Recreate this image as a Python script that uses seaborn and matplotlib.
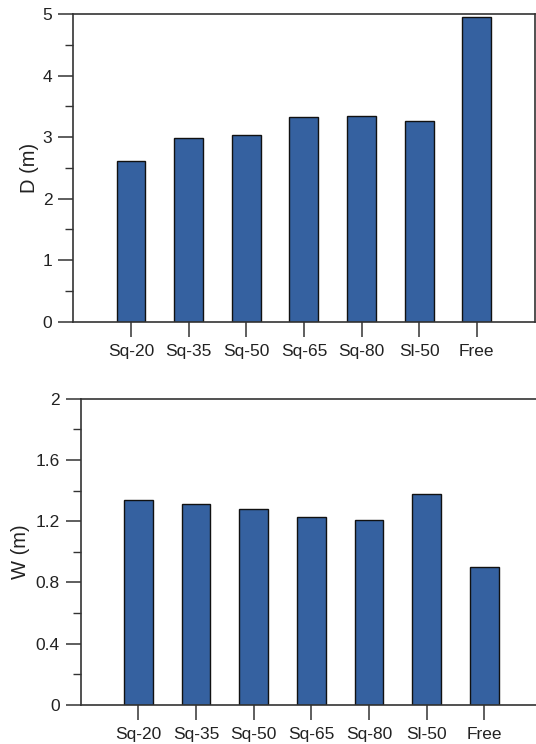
import matplotlib
matplotlib.use("Agg")
import matplotlib.pyplot as plt
import seaborn as sns
import pandas as pd
from matplotlib.ticker import MultipleLocator

categories = ["Sq-20", "Sq-35", "Sq-50", "Sq-65", "Sq-80", "Sl-50", "Free"]
depth_m = [2.61, 2.99, 3.03, 3.32, 3.35, 3.26, 4.95]
width_m = [1.34, 1.31, 1.28, 1.23, 1.21, 1.38, 0.90]

sns.set_theme(style="ticks")
plt.rcParams["font.family"] = ["Liberation Sans", "DejaVu Sans"]

W, H = 536, 744
fig = plt.figure(figsize=(W / 100, H / 100), dpi=100)

bar_color = "#3561a0"
spine_color = "#333333"

def style_axes(ax, ylab, ymax, major, minor, labelpad):
    ax.set_xlim(-1, 7)
    ax.set_ylim(0, ymax)
    ax.yaxis.set_major_locator(MultipleLocator(major))
    ax.yaxis.set_minor_locator(MultipleLocator(minor))
    ax.set_ylabel(ylab, fontsize=14.5, color="#222222", labelpad=labelpad)
    ax.set_xlabel("")
    for s in ax.spines.values():
        s.set_color(spine_color)
        s.set_linewidth(1.2)
    ax.tick_params(axis="both", which="major", length=11, width=1.1,
                   color=spine_color, labelsize=12.5, labelcolor="#222222", pad=4)
    ax.tick_params(axis="y", which="minor", length=6, width=1.0, color=spine_color)
    ax.tick_params(axis="x", which="major", pad=5)

# top panel
ax1 = fig.add_axes([73.3 / W, 1 - 321.7 / H, (534.5 - 73.3) / W, (321.7 - 14) / H])
df1 = pd.DataFrame({"cat": categories, "val": depth_m})
sns.barplot(data=df1, x="cat", y="val", ax=ax1, color=bar_color, width=0.5,
            edgecolor="#111111", linewidth=1.0, saturation=1)
style_axes(ax1, "D (m)", 5, 1, 0.5, 3)
ax1.yaxis.set_major_formatter(matplotlib.ticker.FormatStrFormatter("%d"))

# bottom panel (right border lies outside the image in the reference)
ax2 = fig.add_axes([80.7 / W, 1 - 705 / H, (542 - 80.7) / W, (705 - 398.7) / H])
df2 = pd.DataFrame({"cat": categories, "val": width_m})
sns.barplot(data=df2, x="cat", y="val", ax=ax2, color=bar_color, width=0.5,
            edgecolor="#111111", linewidth=1.0, saturation=1)
style_axes(ax2, "W (m)", 2, 0.4, 0.2, 4)
ax2.spines["right"].set_visible(False)
ax2.set_yticks([0, 0.4, 0.8, 1.2, 1.6, 2.0])
ax2.set_yticklabels(["0", "0.4", "0.8", "1.2", "1.6", "2"])

fig.savefig("out.png", dpi=100, facecolor="white")
